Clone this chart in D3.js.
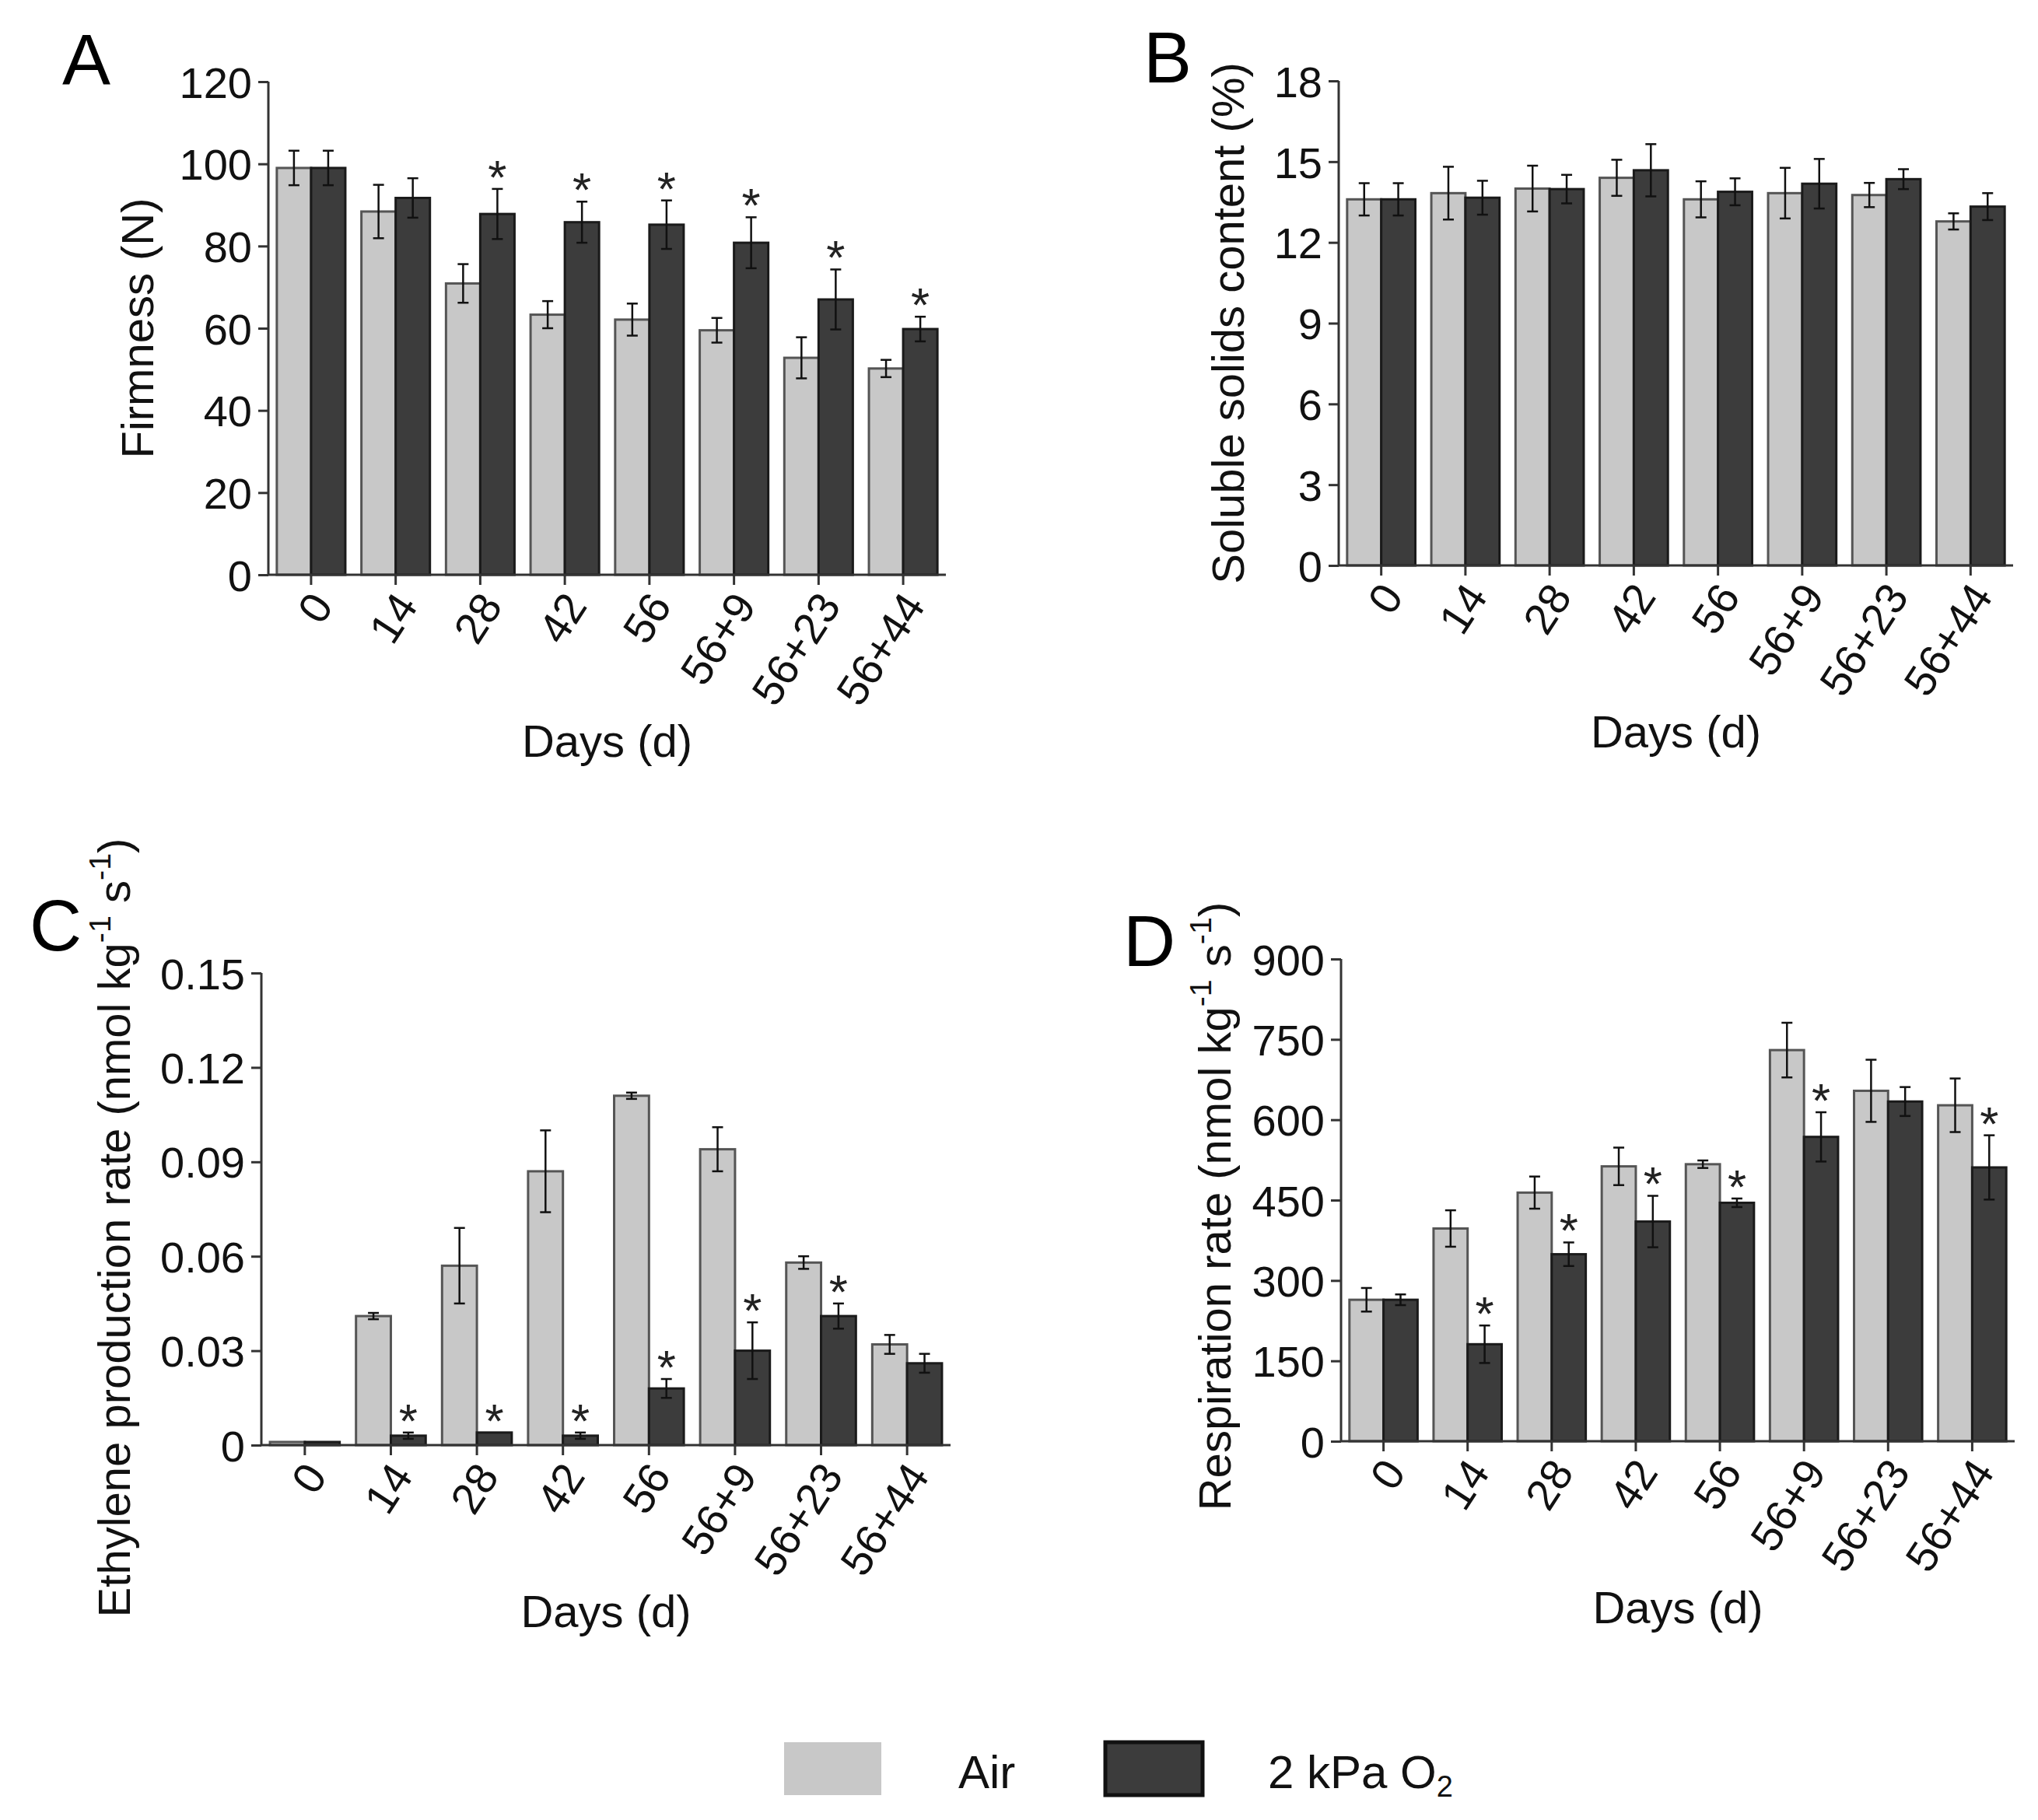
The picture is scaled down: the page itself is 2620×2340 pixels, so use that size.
<!DOCTYPE html>
<html>
<head>
<meta charset="utf-8">
<script src="https://cdn.jsdelivr.net/npm/d3@7"></script>
<style>
  html, body { margin: 0; padding: 0; background: #fff; }
  svg { display: block; font-family: "Liberation Sans", Arial, sans-serif; }
</style>
</head>
<body>
<svg id="chart" width="2620" height="2340"></svg>
<script>
// ---------------- DATA ----------------
const categories = ["0", "14", "28", "42", "56", "56+9", "56+23", "56+44"];

const firmnessAir    = [99, 88.4, 70.9, 63.3, 62.1, 59.5, 52.8, 50.2];
const firmnessAirErr = [4.2, 6.5, 4.7, 3.3, 3.9, 3.0, 5.0, 2.1];
const firmnessO2     = [99, 91.7, 87.8, 85.8, 85.2, 80.8, 67.0, 59.8];
const firmnessO2Err  = [4.2, 4.8, 6.1, 5.0, 5.9, 6.2, 7.3, 3.0];
const firmnessSig    = [0, 0, 1, 1, 1, 1, 1, 1];
const firmnessTicks  = [0, 20, 40, 60, 80, 100, 120];

const sscAir    = [13.6, 13.83, 14.0, 14.4, 13.6, 13.83, 13.76, 12.78];
const sscAirErr = [0.6, 0.98, 0.85, 0.67, 0.67, 0.94, 0.45, 0.3];
const sscO2     = [13.6, 13.66, 13.98, 14.68, 13.88, 14.18, 14.35, 13.33];
const sscO2Err  = [0.6, 0.63, 0.53, 0.97, 0.5, 0.92, 0.37, 0.5];
const sscSig    = [0, 0, 0, 0, 0, 0, 0, 0];
const sscTicks  = [0, 3, 6, 9, 12, 15, 18];

const ethAir    = [0.001, 0.041, 0.057, 0.087, 0.111, 0.094, 0.058, 0.032];
const ethAirErr = [0, 0.001, 0.012, 0.013, 0.001, 0.007, 0.002, 0.003];
const ethO2     = [0.001, 0.003, 0.004, 0.003, 0.018, 0.030, 0.041, 0.026];
const ethO2Err  = [0, 0.001, 0, 0.001, 0.003, 0.009, 0.004, 0.003];
const ethSig    = [0, 1, 1, 1, 1, 1, 1, 0];
const ethTicks  = [0, 0.03, 0.06, 0.09, 0.12, 0.15];

const respAir    = [264, 397, 464, 513, 517, 730, 654, 627];
const respAirErr = [22, 34, 30, 35, 7, 51, 58, 50];
const respO2     = [264, 181, 349, 410, 445, 568, 634, 511];
const respO2Err  = [10, 35, 22, 48, 8, 46, 27, 60];
const respSig    = [0, 1, 1, 1, 1, 1, 0, 1];
const respTicks  = [0, 150, 300, 450, 600, 750, 900];

const seriesNames = ["Air", "2 kPa O2"];

// ---------------- STYLE ----------------
const LIGHT = "#c8c8c8", DARK = "#3c3c3c";
const AXIS = "#333333";
const TICK_FONT = 56, TITLE_FONT = 58, LETTER_FONT = 93;

const svg = d3.select("#chart");

const panels = [
  { letter: "A", lx: 80, ly: 109, x0: 345, x1: 1216, yTop: 105, yBot: 739, max: 120, ticks: firmnessTicks,
    fmt: d3.format("d"), air: firmnessAir, airErr: firmnessAirErr, o2: firmnessO2, o2Err: firmnessO2Err, sig: firmnessSig,
    titleX: 177, titleDy: 0, title: [["Firmness (N)", null]] },
  { letter: "B", lx: 1470, ly: 106, x0: 1721, x1: 2588, yTop: 104, yBot: 727, max: 18, ticks: sscTicks,
    fmt: d3.format("d"), air: sscAir, airErr: sscAirErr, o2: sscO2, o2Err: sscO2Err, sig: sscSig,
    titleX: 1579, titleDy: 0, title: [["Soluble solids content (%)", null]] },
  { letter: "C", lx: 38, ly: 1222, x0: 336, x1: 1222, yTop: 1251, yBot: 1858, max: 0.15, ticks: ethTicks,
    fmt: d => d === 0 ? "0" : d3.format(".2f")(d), air: ethAir, airErr: ethAirErr, o2: ethO2, o2Err: ethO2Err, sig: ethSig,
    titleX: 147, titleDy: 24, title: [["Ethylene production rate (nmol kg", null], ["-1", "sup"], [" s", null], ["-1", "sup"], [")", null]] },
  { letter: "D", lx: 1444, ly: 1242, x0: 1724, x1: 2590, yTop: 1233, yBot: 1853, max: 900, ticks: respTicks,
    fmt: d3.format("d"), air: respAir, airErr: respAirErr, o2: respO2, o2Err: respO2Err, sig: respSig,
    titleX: 1562, titleDy: 8, title: [["Respiration rate (nmol kg", null], ["-1", "sup"], [" s", null], ["-1", "sup"], [")", null]] }
];

panels.forEach(p => {
  const g = svg.append("g");
  const x = d3.scaleBand().domain(categories).range([p.x0, p.x1]).paddingInner(0.19).paddingOuter(0.1);
  const xs = d3.scaleBand().domain([0, 1]).range([0, x.bandwidth()]);
  const y = d3.scaleLinear().domain([0, p.max]).range([p.yBot, p.yTop]);

  const series = [
    { vals: p.air, errs: p.airErr, fill: LIGHT, stroke: "#555" },
    { vals: p.o2, errs: p.o2Err, fill: DARK, stroke: "#1a1a1a" }
  ];
  series.forEach((s, si) => {
    g.selectAll(null).data(categories).enter().append("rect")
      .attr("x", c => x(c) + xs(si))
      .attr("y", (c, i) => y(s.vals[i]))
      .attr("width", xs.bandwidth())
      .attr("height", (c, i) => y(0) - y(s.vals[i]))
      .attr("fill", s.fill)
      .attr("stroke", s.stroke)
      .attr("stroke-width", 3);
  });
  series.forEach((s, si) => {
    categories.forEach((c, i) => {
      if (!s.errs[i]) return;
      const cx = x(c) + xs(si) + xs.bandwidth() / 2;
      const yt = y(s.vals[i] + s.errs[i]), yb = y(s.vals[i] - s.errs[i]);
      const eg = g.append("g").attr("stroke", "#111").attr("stroke-width", 2.5);
      eg.append("line").attr("x1", cx).attr("x2", cx).attr("y1", yt).attr("y2", yb);
      eg.append("line").attr("x1", cx - 7).attr("x2", cx + 7).attr("y1", yt).attr("y2", yt);
      eg.append("line").attr("x1", cx - 7).attr("x2", cx + 7).attr("y1", yb).attr("y2", yb);
    });
  });
  categories.forEach((c, i) => {
    if (!p.sig[i]) return;
    const cx = x(c) + xs(1) + xs.bandwidth() / 2;
    const yt = y(p.o2[i] + p.o2Err[i]);
    g.append("text").attr("x", cx).attr("y", yt + 6)
      .attr("text-anchor", "middle").attr("font-size", 62).attr("fill", "#222").text("*");
  });

  const yAxis = g.append("g").attr("transform", `translate(${p.x0},0)`)
    .call(d3.axisLeft(y).tickValues(p.ticks).tickFormat(p.fmt).tickSize(13).tickPadding(8));
  yAxis.select(".domain").attr("d", `M0,${p.yTop}V${p.yBot}`);
  const xAxis = g.append("g").attr("transform", `translate(0,${p.yBot})`)
    .call(d3.axisBottom(x).tickSize(13).tickFormat(""));
  xAxis.select(".domain").attr("d", `M${p.x0},0H${p.x1}`);
  [yAxis, xAxis].forEach(a => {
    a.selectAll(".domain, .tick line").attr("stroke", AXIS).attr("stroke-width", 3);
    a.selectAll("text").attr("font-size", TICK_FONT).attr("fill", "#111").attr("font-family", "Liberation Sans, Arial, sans-serif");
  });
  yAxis.selectAll(".tick text").attr("dy", "0.36em");

  categories.forEach(c => {
    const cx = x(c) + x.bandwidth() / 2;
    g.append("text")
      .attr("transform", `translate(${cx + 30},${p.yBot + 40}) rotate(-57)`)
      .attr("text-anchor", "end").attr("font-size", TICK_FONT).attr("fill", "#111")
      .text(c);
  });

  g.append("text").attr("x", (p.x0 + p.x1) / 2).attr("y", p.yBot + 234)
    .attr("text-anchor", "middle").attr("font-size", TITLE_FONT).attr("fill", "#111").text("Days (d)");

  const yt = g.append("text")
    .attr("transform", `translate(${p.titleX + 20},${(p.yTop + p.yBot) / 2 + p.titleDy}) rotate(-90)`)
    .attr("text-anchor", "middle").attr("font-size", TITLE_FONT).attr("fill", "#111");
  p.title.forEach(([t, kind]) => {
    const ts = yt.append("tspan").text(t);
    if (kind === "sup") ts.attr("font-size", TITLE_FONT * 0.68).attr("baseline-shift", "65%");
  });

  g.append("text").attr("x", p.lx).attr("y", p.ly).attr("font-size", LETTER_FONT).attr("fill", "#000").text(p.letter);
});

// ---------------- LEGEND ----------------
const legend = svg.append("g");
const legendItems = [
  { name: seriesNames[0], fill: LIGHT, stroke: "none", sx: 1008, tx: 1232 },
  { name: seriesNames[1], fill: DARK, stroke: "#111", sx: 1421, tx: 1630 }
];
legendItems.forEach(it => {
  legend.append("rect").attr("x", it.sx).attr("y", 2240).attr("width", 125).attr("height", 68)
    .attr("fill", it.fill).attr("stroke", it.stroke).attr("stroke-width", it.stroke === "none" ? 0 : 5);
});
legend.append("text").attr("x", legendItems[0].tx).attr("y", 2299).attr("font-size", 60).attr("fill", "#111").text("Air");
const t2 = legend.append("text").attr("x", legendItems[1].tx).attr("y", 2299).attr("font-size", 60).attr("fill", "#111");
t2.append("tspan").text("2 kPa O");
t2.append("tspan").text("2").attr("font-size", 38).attr("baseline-shift", "-30%");
</script>
</body>
</html>
